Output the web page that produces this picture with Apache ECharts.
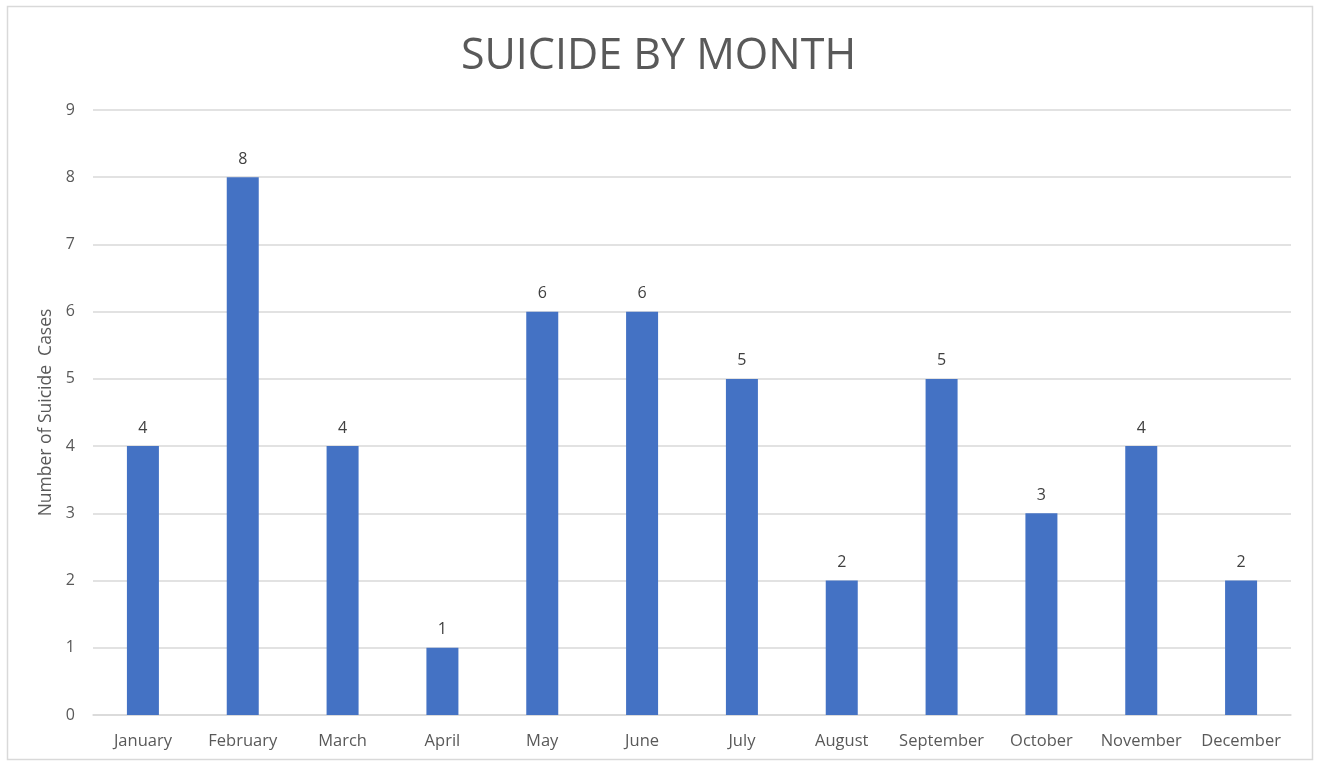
<!DOCTYPE html>
<html><head><meta charset="utf-8">
<script src="https://cdn.jsdelivr.net/npm/echarts@6/dist/echarts.min.js"></script>
<style>html,body{margin:0;padding:0;background:#fff}#c{width:1317px;height:763px}</style>
</head><body><div id="c"></div>
<script>
const months = ["January","February","March","April","May","June","July","August","September","October","November","December"];
const cases = [4,8,4,1,6,6,5,2,5,3,4,2];
const yTicks = {min:0, max:9, interval:1};
const font = "'Open Sans', 'Liberation Sans', sans-serif";
const chart = echarts.init(document.getElementById('c'));
chart.setOption({
  animation:false,
  backgroundColor:'#fff',
  title:{text:'SUICIDE BY MONTH', left:'center', top:30, textStyle:{fontFamily:font, fontSize:43, fontWeight:'normal', color:'#595959'}},
  graphic:[{type:'rect', shape:{x:7.5,y:6.5,width:1305,height:753}, style:{fill:'none', stroke:'#d9d9d9', lineWidth:1.5}, silent:true}],
  grid:{left:93, right:26, top:110, bottom:48},
  xAxis:{type:'category', data:months,
    axisLine:{lineStyle:{color:'#d9d9d9', width:1.5}}, axisTick:{show:false},
    axisLabel:{interval:0, fontFamily:font, fontSize:16.5, color:'#595959', margin:18}},
  yAxis:{type:'value', min:yTicks.min, max:yTicks.max, interval:yTicks.interval,
    name:'Number of Suicide  Cases', nameLocation:'middle', nameGap:38, nameRotate:90,
    nameTextStyle:{fontFamily:font, fontSize:17.5, color:'#595959'},
    axisLine:{show:false}, axisTick:{show:false},
    axisLabel:{fontFamily:font, fontSize:16, color:'#595959', margin:18},
    splitLine:{lineStyle:{color:'#d9d9d9', width:1.5}}},
  series:[{type:'bar', data:cases, barWidth:32, itemStyle:{color:'#4472c4'},
    label:{show:true, position:'top', distance:10, fontFamily:font, fontSize:16, color:'#404040'}}]
});
</script></body></html>
